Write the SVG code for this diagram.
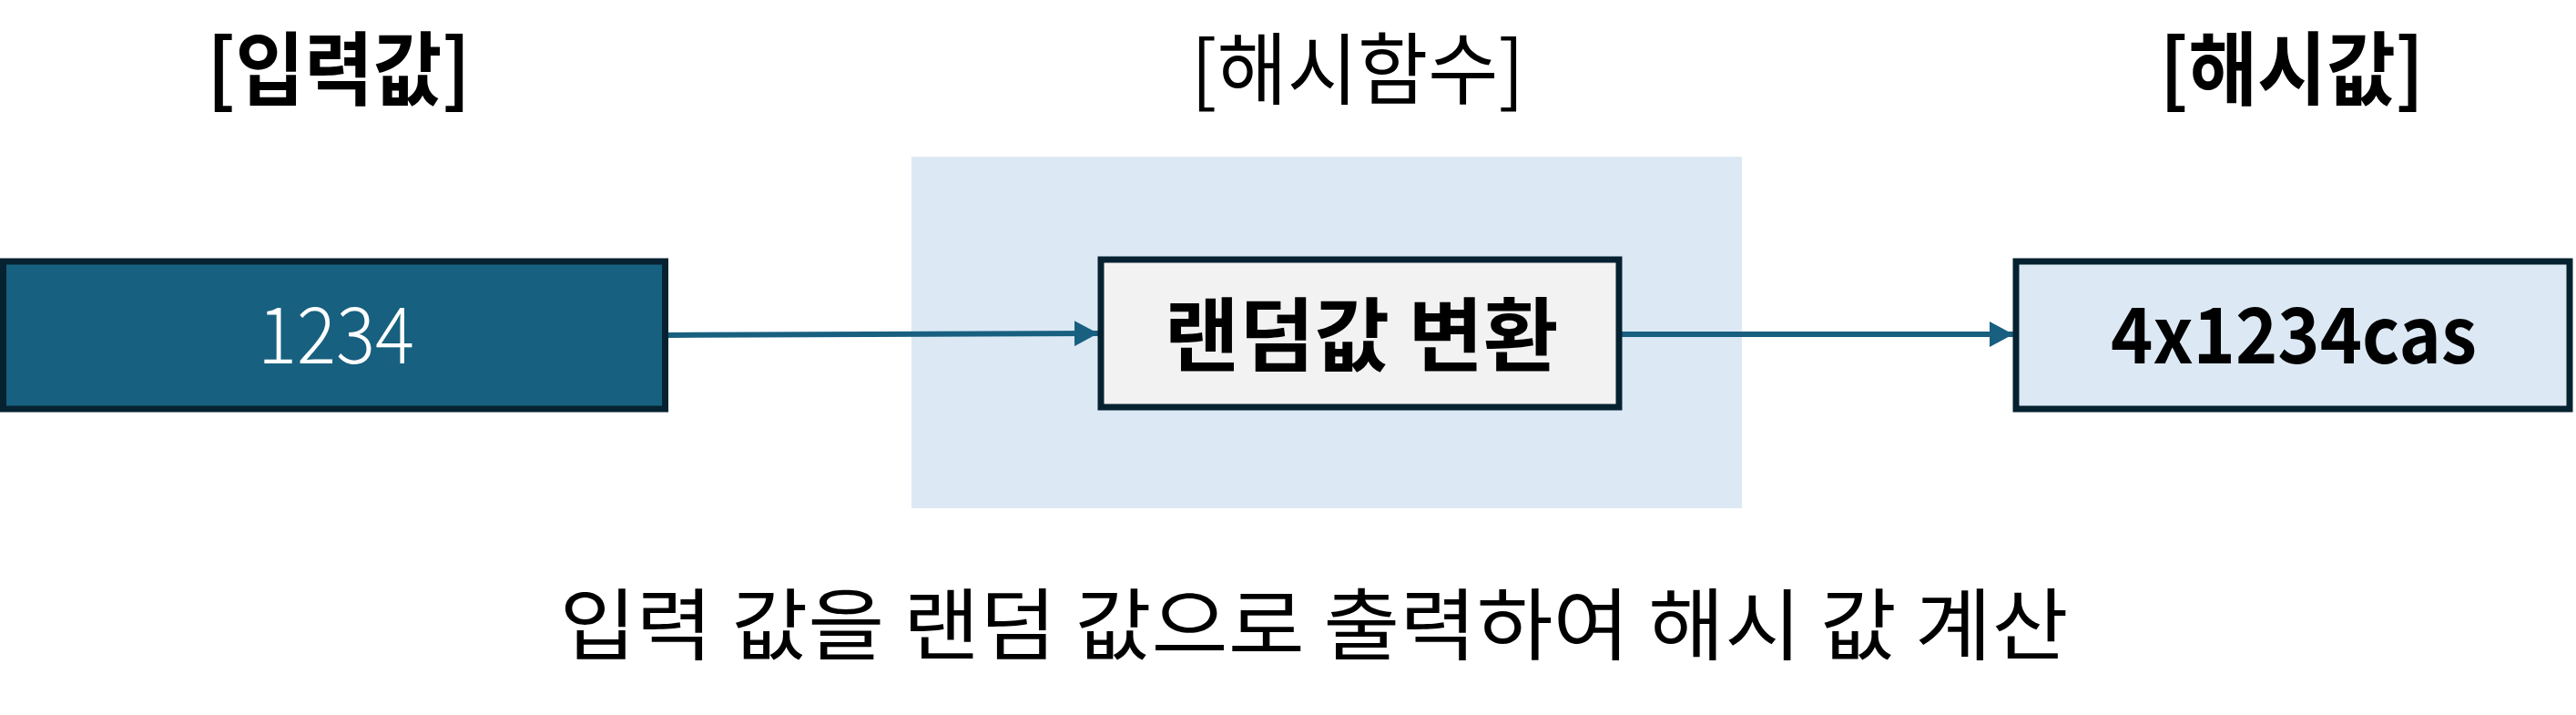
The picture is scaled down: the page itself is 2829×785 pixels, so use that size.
<svg xmlns="http://www.w3.org/2000/svg" width="2829" height="785" viewBox="0 0 2829 785">
<style>
text{font-family:"Noto Sans CJK KR","Liberation Sans",sans-serif;fill:#000;text-anchor:middle}
.b{font-weight:700}
.box{stroke:#062231;stroke-width:7}
.conn{stroke:#185F80;stroke-width:6;fill:none}
</style>
<defs>
<marker id="ah" markerUnits="userSpaceOnUse" markerWidth="26" markerHeight="28" refX="26" refY="14" orient="auto">
<path d="M0,0 L26,14 L0,28 Z" fill="#185F80"/>
</marker>
</defs>
<rect id="bg" width="2829" height="785" fill="#fff"/>
<g id="title-input"><text class="b" x="372" y="108" font-size="88" textLength="289" lengthAdjust="spacingAndGlyphs">[입력값]</text></g>
<g id="title-hash"><text x="1491" y="108" font-size="86" textLength="366" lengthAdjust="spacingAndGlyphs">[해시함수]</text></g>
<g id="title-output"><text class="b" x="2517" y="108" font-size="88" textLength="290" lengthAdjust="spacingAndGlyphs">[해시값]</text></g>
<g id="hash-area"><rect x="1001" y="172" width="912" height="386" fill="#DCE9F5"/></g>
<g id="connectors">
<path class="conn" d="M732,368 L1206,366" marker-end="url(#ah)"/>
<path class="conn" d="M1781,367 L2211,367" marker-end="url(#ah)"/>
</g>
<g id="input">
<rect class="box" x="3.5" y="287" width="727" height="162" fill="#17607F"/>
<text x="369" y="399" font-size="86" font-weight="300" style="fill:#fff" textLength="172" lengthAdjust="spacingAndGlyphs">1234</text>
</g>
<g id="random">
<rect class="box" x="1209" y="285" width="569" height="162" fill="#F2F2F2"/>
<text class="b" x="1495" y="400" font-size="88" textLength="433" lengthAdjust="spacingAndGlyphs">랜덤값 변환</text>
</g>
<g id="output">
<rect class="box" x="2214" y="287" width="608" height="162" fill="#DCE9F5"/>
<text class="b" x="2519" y="399" font-size="85" textLength="402" lengthAdjust="spacingAndGlyphs">4x1234cas</text>
</g>
<g id="caption"><text x="1443" y="718" font-size="86" textLength="1657" lengthAdjust="spacingAndGlyphs">입력 값을 랜덤 값으로 출력하여 해시 값 계산</text></g>
</svg>
